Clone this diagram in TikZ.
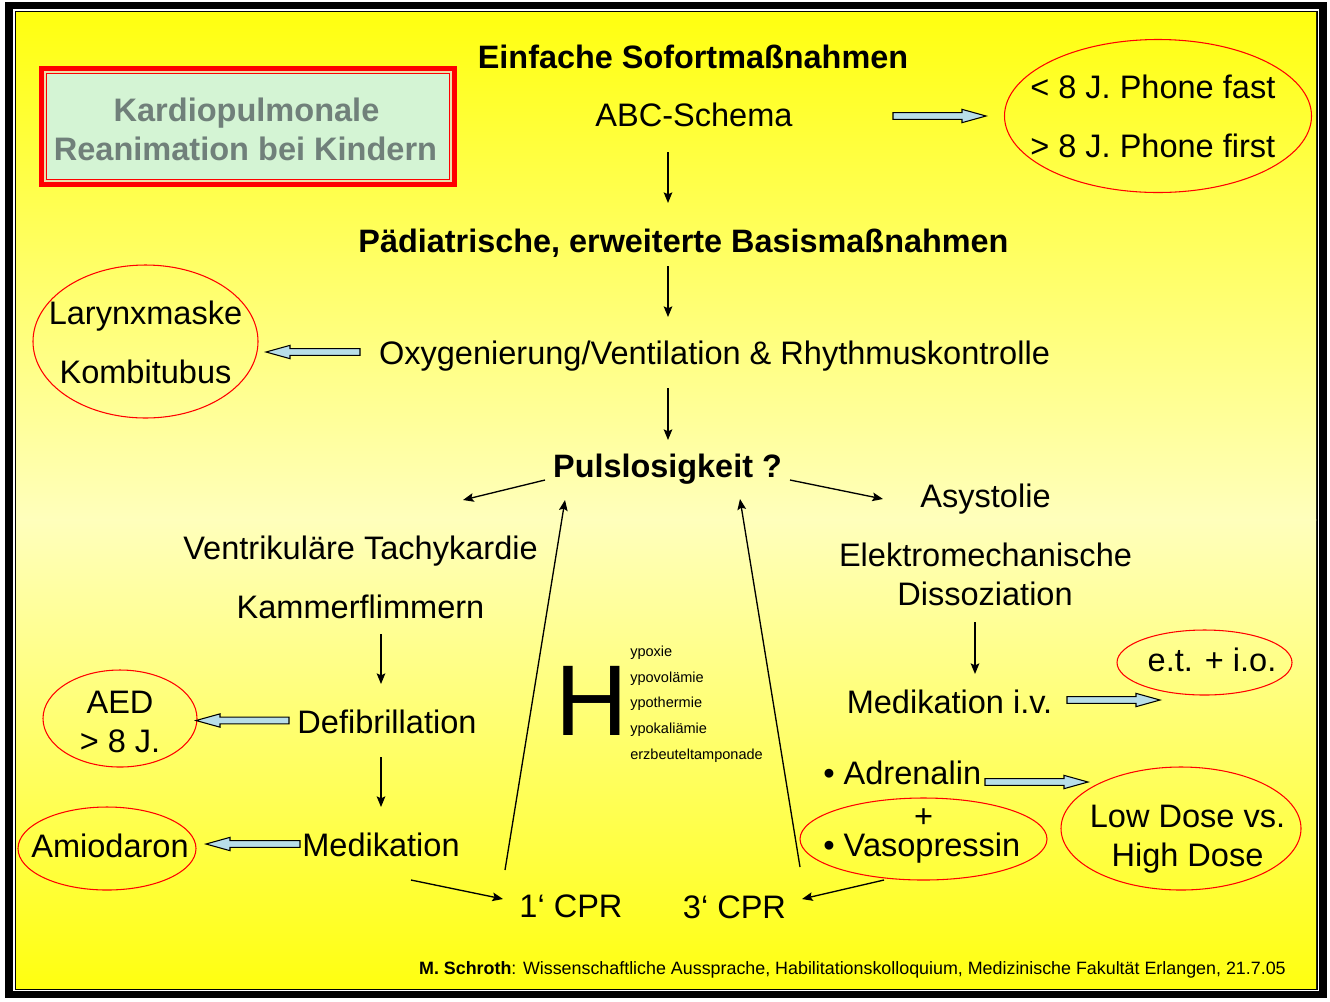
\documentclass[tikz,border=0pt]{standalone}
\usepackage{fontspec}
\setmainfont{Liberation Sans}
\usetikzlibrary{arrows.meta,calc,shapes.geometric}
\definecolor{hblue}{RGB}{184,222,232}
\definecolor{paley}{RGB}{255,255,188}
\definecolor{ytop}{RGB}{255,255,16}
\definecolor{titlefill}{RGB}{212,244,212}
\definecolor{titletext}{RGB}{112,128,122}
\definecolor{beige}{RGB}{236,222,170}
\newcommand{\hollowarr}[2]{%
  \filldraw[hollow] let \p1=(#1), \p2=(#2), \n1={sign(\x2-\x1)*18pt} in
    (\x1,\y1-2.5pt) -- (\x2-\n1,\y1-2.5pt) -- (\x2-\n1,\y1-5pt) -- (\x2,\y2)
    -- (\x2-\n1,\y1+5pt) -- (\x2-\n1,\y1+2.5pt) -- (\x1,\y1+2.5pt) -- cycle;}
\begin{document}
\begin{tikzpicture}[x=0.75pt,y=-0.75pt,
  txt/.style={inner sep=0pt, font=\fontsize{24.4}{29}\selectfont, text height=17.4pt, text depth=0pt},
  btxt/.style={txt, font=\fontsize{24.3}{29}\selectfont\bfseries},
  ttl/.style={txt, font=\fontsize{24.4}{29}\selectfont\bfseries, text=titletext},
  small/.style={inner sep=0pt, font=\fontsize{10.9}{13}\selectfont, anchor=base west},
  ell/.style={ellipse, draw=red, line width=0.8pt, inner sep=0pt},
  arr/.style={line width=1pt, -{Stealth[length=8pt,width=6.5pt,inset=1.5pt]}},
  hollow/.style={fill=hblue, draw=black, line width=0.8pt, line join=miter}
]
\useasboundingbox (0,0) rectangle (1330,1001);
\fill[white] (0,0) rectangle (1330,1001);
% frame
\fill[black] (5,2) rectangle (1327,998);
\fill[white] (13,9) rectangle (1319,991);
\fill[black] (14.5,10.5) rectangle (1317.5,989.5);
\shade[top color=ytop, bottom color=paley] (16,12.5) rectangle (1316,520);
\shade[top color=paley, bottom color=ytop] (16,519.5) rectangle (1316,988);
% title box
\fill[red] (39,66) rectangle (457,187);
\fill[beige] (44,71) rectangle (452,182);
\filldraw[fill=titlefill, draw=red, line width=0.9pt] (46.5,73.5) rectangle (449.5,179.5);
\node[ttl] (t1) at (246.5,110) {Kardiopulmonale};
\node[ttl] (t2) at (245.5,149) {Reanimation bei Kindern};
% ellipses
\node[ell, minimum width=230.25pt, minimum height=114.75pt] (e1) at (1158,116) {};
\node[ell, minimum width=168.75pt, minimum height=114.75pt] (e2) at (145.5,341.5) {};
\node[ell, minimum width=131.25pt, minimum height=48.75pt] (e3) at (1204.5,662.5) {};
\node[ell, minimum width=115.5pt, minimum height=72.75pt] (e4) at (120,718.5) {};
\node[ell, minimum width=133.5pt, minimum height=62.25pt] (e5) at (107,848.5) {};
\node[ell, minimum width=185.25pt, minimum height=61.5pt] (e6) at (923.5,839) {};
\node[ell, minimum width=180pt, minimum height=92.25pt] (e7) at (1181,828.5) {};
% texts
\node[btxt] (einf) at (693,57) {Einfache Sofortmaßnahmen};
\node[txt] (abc) at (694,115) {ABC-Schema};
\node[txt, anchor=west] (pf1) at (1030,87) {< 8 J. Phone fast};
\node[txt, anchor=west] (pf2) at (1030,146) {> 8 J. Phone first};
\node[btxt] (paed) at (683.5,241) {Pädiatrische, erweiterte Basismaßnahmen};
\node[txt] (oxy) at (714.5,353) {Oxygenierung/Ventilation \& Rhythmuskontrolle};
\node[txt] (lar) at (145.5,313) {Larynxmaske};
\node[txt] (kom) at (145.5,372) {Kombitubus};
\node[btxt] (puls) at (667.5,466) {Pulslosigkeit ?};
\node[txt] (asy) at (985.5,496) {Asystolie};
\node[txt] (vt) at (360.5,548) {Ventrikuläre Tachykardie};
\node[txt] (kf) at (360.5,607) {Kammerflimmern};
\node[txt] (emd1) at (985.5,555) {Elektromechanische};
\node[txt] (emd2) at (985,594) {Dissoziation};
\node[txt] (defi) at (387,722) {Defibrillation};
\node[txt] (aed1) at (120,702) {AED};
\node[txt] (aed2) at (120,741) {> 8 J.};
\node[txt] (med) at (381,845) {Medikation};
\node[txt] (amio) at (110,846) {Amiodaron};
\node[txt] (cpr1) at (571,906) {1‘ CPR};
\node[txt] (cpr3) at (734.5,907) {3‘ CPR};
\node[txt] (mediv) at (949.5,702) {Medikation i.v.};
\node[txt] (etio) at (1212,660) {e.t. + i.o.};
\node[txt, anchor=west] (adr) at (823,773) {• Adrenalin};
\node[txt] (plus) at (923.5,816) {+};
\node[txt, anchor=west] (vaso) at (823,845) {• Vasopressin};
\node[txt] (low) at (1187.5,816) {Low Dose vs.};
\node[txt] (high) at (1187.5,855) {High Dose};
% H list
\node[inner sep=0pt, font=\fontsize{75.4}{80}\selectfont, anchor=base] (H) at (592,735) {H};
\node[small] (h1) at (630,656) {ypoxie};
\node[small] (h2) at (630,682) {ypovolämie};
\node[small] (h3) at (630,707) {ypothermie};
\node[small] (h4) at (630,733) {ypokaliämie};
\node[small] (h5) at (630,759) {erzbeuteltamponade};
% footer
\node[inner sep=0pt, font=\fontsize{13.4}{16}\selectfont, anchor=base east] (foot) at (1286,974) {\textbf{M. Schroth}: Wissenschaftliche Aussprache, Habilitationskolloquium, Medizinische Fakultät Erlangen, 21.7.05};
% arrow end points
\coordinate (a1s) at (668,152); \coordinate (a1e) at (668,203);
\coordinate (a2s) at (668,266); \coordinate (a2e) at (668,317);
\coordinate (a3s) at (668,388); \coordinate (a3e) at (668,440);
\coordinate (a4s) at (545,480); \coordinate (a4e) at (463,500);
\coordinate (a5s) at (790,480); \coordinate (a5e) at (883,499);
\coordinate (a6s) at (381,634); \coordinate (a6e) at (381,684);
\coordinate (a7s) at (381,757); \coordinate (a7e) at (381,807);
\coordinate (a8s) at (411,880); \coordinate (a8e) at (503,899);
\coordinate (a9s) at (505,870); \coordinate (a9e) at (565,500);
\coordinate (a10s) at (800,867); \coordinate (a10e) at (740,499);
\coordinate (a11s) at (884,880); \coordinate (a11e) at (802,899);
\coordinate (a12s) at (975,622); \coordinate (a12e) at (975,674);
\foreach \i in {1,...,12} {\draw[arr] (a\i s) -- (a\i e);}
% hollow arrows
\coordinate (h1s) at (893,116); \coordinate (h1e) at (986,116);
\coordinate (h2s) at (360,352); \coordinate (h2e) at (266,352);
\coordinate (h3s) at (289,720.5); \coordinate (h3e) at (196,720.5);
\coordinate (h4s) at (300,844); \coordinate (h4e) at (206,844);
\coordinate (h5s) at (1067,700); \coordinate (h5e) at (1160,700);
\coordinate (h6s) at (985,782); \coordinate (h6e) at (1088,782);
\hollowarr{h1s}{h1e}
\hollowarr{h2s}{h2e}
\hollowarr{h3s}{h3e}
\hollowarr{h4s}{h4e}
\hollowarr{h5s}{h5e}
\hollowarr{h6s}{h6e}
\end{tikzpicture}
\end{document}
